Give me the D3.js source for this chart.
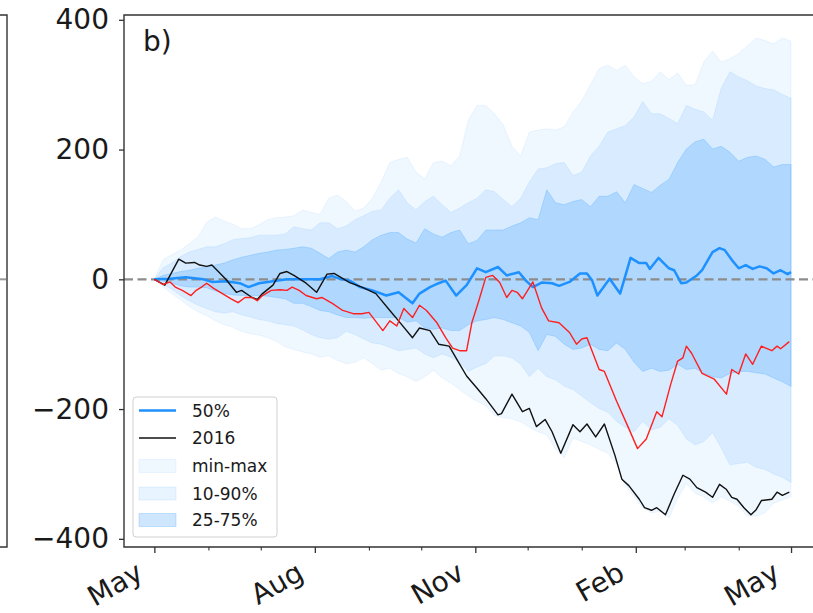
<!DOCTYPE html>
<html><head><meta charset="utf-8">
<script src="https://cdn.jsdelivr.net/npm/d3@7"></script>
<style>body{margin:0;background:#fff}svg{display:block;font-family:"DejaVu Sans",sans-serif}</style>
</head><body><svg id="c" width="813" height="613"></svg>
<script>
// ---- data (days since 1 May) ----
const bandDays = d3.range(0, 366, 5);
const maxVals = [0,30,38,45,55,65,88,96,90,85, 78,78,84,92,95,96,98,107,103,100, 125,130,120,105,110,125,150,180,185,188, 165,155,180,182,175,190,245,268,268,255, 238,205,190,227,230,232,230,235,258,275, 300,325,330,322,330,312,302,305,320,308, 318,299,300,335,352,335,340,348,360,372, 368,363,372,367];
const p90Vals = [0,18,25,35,42,46,50,50,55,61, 63,64,68,68,68,70,81,78,76,87, 87,78,82,92,98,105,107,125,138,118, 107,120,128,115,103,110,118,125,138,135, 123,112,125,150,170,172,178,180,160,165, 190,205,227,232,237,250,274,255,255,248, 240,268,262,258,245,295,320,312,306,298, 294,292,285,279];
const p75Vals = [0,6,9,12,14,17,19,22,25,30, 34,37,40,42,45,46,48,50,48,40, 32,42,45,42,50,61,68,72,72,62, 56,78,70,65,72,76,55,60,76,76, 76,82,87,95,92,138,118,115,120,123, 112,128,128,135,118,146,140,134,145,154, 180,201,212,216,201,205,196,182,188,190, 185,173,177,177];
const p25Vals = [0,-3,-6,-10,-12,-12,-13,-18,-22,-24, -25,-25,-25,-26,-28,-30,-37,-37,-42,-48, -50,-55,-59,-59,-60,-59,-59,-59,-59,-66, -64,-75,-77,-75,-79,-79,-70,-64,-62,-59, -62,-67,-72,-82,-110,-85,-88,-100,-108,-106, -100,-108,-110,-98,-108,-128,-142,-137,-142,-140, -131,-139,-137,-145,-150,-152,-145,-142,-142,-144, -146,-152,-158,-165];
const p10Vals = [0,-8,-15,-25,-33,-40,-45,-50,-52,-50, -55,-58,-62,-64,-68,-70,-72,-78,-85,-90, -92,-90,-80,-85,-92,-98,-100,-105,-110,-108, -106,-115,-121,-115,-120,-128,-142,-135,-130,-118, -118,-121,-131,-150,-137,-150,-155,-165,-170,-180, -190,-199,-205,-219,-228,-235,-219,-232,-228,-215, -225,-246,-255,-250,-236,-260,-286,-284,-282,-290, -293,-300,-305,-313];
const minVals = [0,-12,-22,-32,-42,-50,-56,-64,-70,-74, -80,-84,-86,-90,-96,-104,-108,-112,-115,-120, -118,-125,-130,-128,-121,-130,-140,-137,-145,-150, -158,-150,-140,-152,-160,-170,-180,-188,-195,-210, -213,-215,-220,-228,-235,-240,-262,-275,-245,-250, -255,-262,-268,-285,-318,-335,-352,-360,-358,-368, -338,-315,-330,-335,-345,-335,-342,-350,-365,-365, -360,-345,-340,-335];

const medDays = [0,9,18,28,33,41,49,54,60,68, 76,87,95,102,106,112,118,125,133,140, 148,152,158,163,167,173,179,185,190,197, 202,209,213,217,222,228,232,238,244,248, 251,254,261,267,273,278,282,284,289,295, 298,302,305,311,314,320,324,327,331,335, 339,343,347,351,355,359,363,365];
const medVals = [0,1,3,0,-4,-3,-6,-12,-6,-3, 0,0,0,5,1,-2,-12,-17,-25,-20, -37,-22,-12,-6,-2,-25,-9,17,11,19, 6,11,-2,-12,-5,-6,-10,-4,9,9, -2,-25,1,-22,33,25,25,16,33,17, 14,-6,-5,6,14,42,48,45,30,17, 22,16,20,17,9,14,8,11];

const y2016Days = [0,6,14,18,23,26,30,33,41,47, 50,56,59,62,68,72,76,80,87,93, 99,103,112,119,127,135,140,148,152,158, 163,169,174,179,185,190,197,199,205,211, 215,219,224,228,233,240,244,248,253,258, 264,268,272,278,281,285,288,293,298,303, 307,311,316,320,324,328,331,334,338,342, 345,348,354,357,360,364];
const y2016Vals = [0,-9,31,25,26,22,20,22,0,-20, -17,-28,-31,-22,-9,9,12,6,-6,-20, 8,9,-5,-12,-22,-48,-64,-90,-75,-79, -100,-103,-126,-149,-168,-184,-209,-207,-177,-204, -199,-227,-216,-235,-268,-224,-235,-223,-243,-223, -271,-308,-318,-339,-352,-356,-352,-363,-331,-302, -308,-321,-328,-336,-316,-324,-336,-339,-352,-363, -355,-341,-339,-328,-333,-328];

const redDays = [0,5,9,12,16,21,24,27,30,34, 39,44,48,52,56,59,62,67,72,76, 79,83,87,93,96,102,108,114,119,123, 131,135,139,143,148,152,156,162,167,171, 175,179,182,186,190,194,198,202,205,208, 211,217,222,226,232,238,242,245,248,255, 258,265,271,277,282,288,291,296,300,303, 305,308,314,321,328,331,335,339,343,346, 348,354,357,359,364];
const redVals = [0,-8,-4,-12,-17,-25,-17,-12,-6,-14, -22,-30,-36,-28,-28,-33,-25,-17,-16,-17, -12,-17,-25,-30,-28,-37,-48,-53,-53,-51, -79,-64,-72,-45,-59,-40,-48,-67,-90,-106, -110,-110,-67,-33,3,6,-5,-28,-17,-20, -30,-4,-44,-64,-67,-82,-100,-92,-90,-139, -142,-188,-224,-261,-246,-204,-212,-162,-126,-121, -103,-114,-145,-154,-177,-139,-146,-115,-131,-114, -103,-110,-103,-107,-96];

const yTicks = [-400, -200, 0, 200, 400];
const legendLabels = ["50%", "2016", "min-max", "10-90%", "25-75%"];
const panelLabel = "b)";

// ---- scales ----
const startMs = Date.UTC(2016, 4, 1);
const toDate = d => new Date(startMs + d * 864e5);
const L = 124, R = 821.4, T = 15, B = 547;
const x = d3.scaleUtc().domain([toDate(-17.4), toDate(382.4)]).range([L, R]);
const y = d3.scaleLinear().domain([-412.6, 407.4]).range([B, T]);

const svg = d3.select("#c");
const BLUE = "#1e90ff";

// left neighbour panel fragment
svg.append("path").attr("d", `M0,${T}H7V${B}H0`).attr("fill", "none").attr("stroke", "#333").attr("stroke-width", 1.4);
svg.append("line").attr("x1", 0).attr("x2", 6).attr("y1", y(0)).attr("y2", y(0)).attr("stroke", "#999").attr("stroke-width", 2);

// bands
const bands = [
  {lo: minVals, hi: maxVals, a: 0.07},
  {lo: p10Vals, hi: p90Vals, a: 0.10},
  {lo: p25Vals, hi: p75Vals, a: 0.22}
];
const area = d3.area().x(d => x(toDate(d.day))).y0(d => y(d.lo)).y1(d => y(d.hi));
bands.forEach(b => {
  const pts = bandDays.map((d, i) => ({day: d, lo: b.lo[i], hi: b.hi[i]}));
  svg.append("path").attr("d", area(pts)).attr("fill", BLUE).attr("fill-opacity", b.a)
    .attr("stroke", BLUE).attr("stroke-opacity", b.a).attr("stroke-width", 1);
});

// zero line
svg.append("line").attr("x1", L).attr("x2", R).attr("y1", y(0)).attr("y2", y(0))
  .attr("stroke", "#8c8c8c").attr("stroke-width", 2.2).attr("stroke-dasharray", "9,4.5");

const line = d3.line().x(d => x(toDate(d[0]))).y(d => y(d[1]));
svg.append("path").attr("d", line(medDays.map((d, i) => [d, medVals[i]])))
  .attr("fill", "none").attr("stroke", BLUE).attr("stroke-width", 2.5).attr("stroke-linejoin", "round");
svg.append("path").attr("d", line(y2016Days.map((d, i) => [d, y2016Vals[i]])))
  .attr("fill", "none").attr("stroke", "#111").attr("stroke-width", 1.4).attr("stroke-linejoin", "round");
svg.append("path").attr("d", line(redDays.map((d, i) => [d, redVals[i]])))
  .attr("fill", "none").attr("stroke", "#ff1f1f").attr("stroke-width", 1.4).attr("stroke-linejoin", "round");

// axes
const fmtY = d => d < 0 ? "\u2212" + Math.abs(d) : String(d);
const gy = svg.append("g").attr("transform", `translate(${L},0)`)
  .call(d3.axisLeft(y).tickValues(yTicks).tickFormat(fmtY).tickSize(5).tickPadding(10));
gy.select(".domain").remove();
gy.selectAll("line").attr("stroke", "#333").attr("stroke-width", 1.3);
gy.selectAll("text").attr("font-size", 28).attr("fill", "#1a1a1a").attr("font-family", "DejaVu Sans");

const majors = [toDate(0), toDate(92), toDate(184), toDate(276), toDate(365)];
const minors = d3.utcMonth.range(toDate(0), toDate(366)).filter(m => !majors.some(t => +t === +m));
const gx = svg.append("g").attr("transform", `translate(0,${B})`);
gx.call(d3.axisBottom(x).tickValues(minors).tickFormat("").tickSize(3.5));
gx.select(".domain").remove();
gx.selectAll("line").attr("stroke", "#333").attr("stroke-width", 1.1);
const gx2 = svg.append("g").attr("transform", `translate(0,${B})`)
  .call(d3.axisBottom(x).tickValues(majors).tickFormat(d3.utcFormat("%b")).tickSize(6));
gx2.select(".domain").remove();
gx2.selectAll("line").attr("stroke", "#333").attr("stroke-width", 1.3);
gx2.selectAll("text").attr("font-size", 28).attr("fill", "#1a1a1a").attr("font-family", "DejaVu Sans")
  .attr("text-anchor", "end").attr("dy", null).attr("y", null)
  .attr("transform", d => `translate(-10,31) rotate(-30)`);

// frame (right spine lies beyond the picture)
svg.append("path").attr("d", `M${R},${T}H${L}V${B}H${R}`).attr("fill", "none")
  .attr("stroke", "#333").attr("stroke-width", 1.4);

// panel label
svg.append("text").attr("x", 143).attr("y", 51).attr("font-size", 28).attr("fill", "#1a1a1a").text(panelLabel);

// legend
const lg = svg.append("g");
lg.append("rect").attr("x", 133).attr("y", 397).attr("width", 144).attr("height", 140).attr("rx", 3)
  .attr("fill", "#fff").attr("fill-opacity", 0.8).attr("stroke", "#d0d0d0").attr("stroke-width", 1);
const rowY = [410.5, 438, 466, 493.5, 520];
lg.append("line").attr("x1", 139).attr("x2", 176).attr("y1", rowY[0]).attr("y2", rowY[0]).attr("stroke", BLUE).attr("stroke-width", 2.5);
lg.append("line").attr("x1", 139).attr("x2", 176).attr("y1", rowY[1]).attr("y2", rowY[1]).attr("stroke", "#111").attr("stroke-width", 1.4);
bands.forEach((b, i) => {
  lg.append("rect").attr("x", 139).attr("y", rowY[i + 2] - 6.5).attr("width", 37).attr("height", 13)
    .attr("fill", BLUE).attr("fill-opacity", b.a).attr("stroke", BLUE).attr("stroke-opacity", b.a);
});
legendLabels.forEach((t, i) => {
  lg.append("text").attr("x", 192).attr("y", rowY[i]).attr("dy", "0.36em").attr("font-size", 17)
    .attr("fill", "#1a1a1a").text(t);
});
</script>
</body></html>
